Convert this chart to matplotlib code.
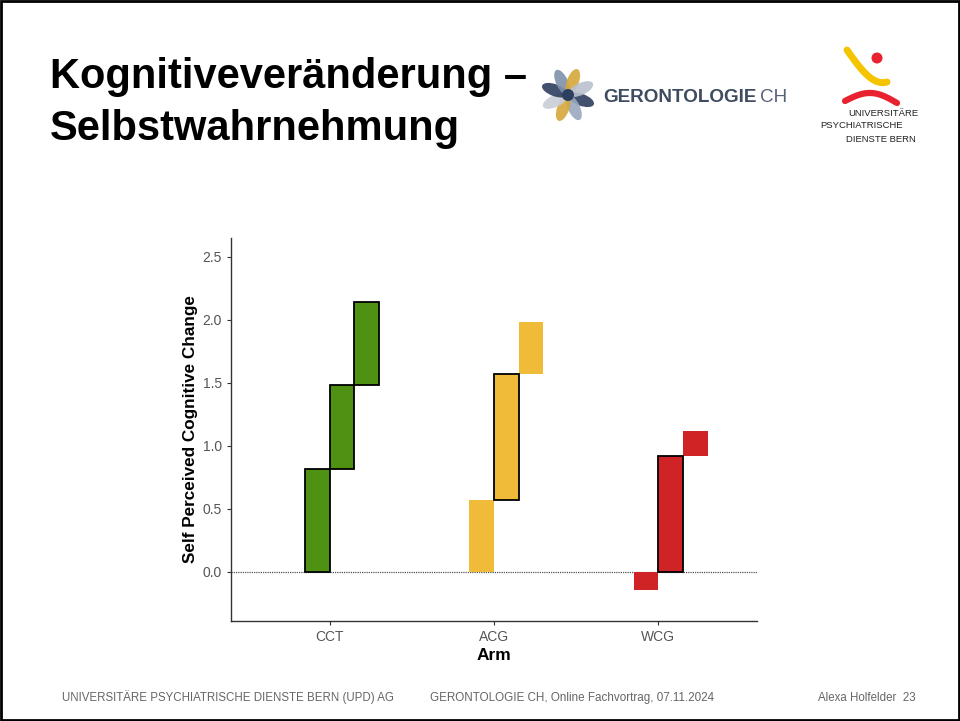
#!/usr/bin/env python3

import numpy as np
import matplotlib
matplotlib.use("Agg")
import matplotlib.pyplot as plt
from matplotlib.patches import Ellipse, Circle, Rectangle

plt.rcParams["font.family"] = ["Liberation Sans", "DejaVu Sans"]

# chart data
arms = ["CCT", "ACG", "WCG"]
arm_colors = ["#4f9112", "#f0bb38", "#d02325"]
# three steps per arm: (bottom, top)
cct_steps = [(0.0, 0.82), (0.82, 1.48), (1.48, 2.14)]
acg_steps = [(0.0, 0.57), (0.57, 1.57), (1.57, 1.98)]
wcg_steps = [(0.0, -0.14), (0.0, 0.92), (0.92, 1.12)]
# which steps carry a black outline
cct_outline = [True, True, True]
acg_outline = [False, True, False]
wcg_outline = [False, True, False]

y_ticks = [0.0, 0.5, 1.0, 1.5, 2.0, 2.5]
y_label = "Self Perceived Cognitive Change"
x_label = "Arm"

title = "Kognitiveveränderung –\nSelbstwahrnehmung"
footer_left = "UNIVERSITÄRE PSYCHIATRISCHE DIENSTE BERN (UPD) AG"
footer_mid = "GERONTOLOGIE CH, Online Fachvortrag, 07.11.2024"
footer_right = "Alexa Holfelder  23"

W, H = 960, 721
fig = plt.figure(figsize=(W / 100, H / 100), dpi=100)
fig.patch.set_facecolor("white")


def px(x, y):
    # pixel coords (top-left origin) -> figure fraction
    return x / W, 1 - y / H


# slide frame
fig.add_artist(Rectangle((0.001, 0.001), 0.998, 0.997, transform=fig.transFigure,
                         fill=False, edgecolor="black", linewidth=2))

# title
fig.text(*px(50, 57), title, fontsize=30, fontweight="bold", va="top", ha="left",
         linespacing=1.38, color="black")

# ---- gerontologie logo (rough) ----
logo = fig.add_axes([0, 0, 1, 1], facecolor="none")
logo.set_xlim(0, W)
logo.set_ylim(H, 0)
logo.axis("off")
cx, cy = 568, 95
petal_cols = ["#2d3f5e", "#9aa8bd", "#d6a83c", "#c9cdd6", "#2d3f5e", "#7f90aa", "#d6a83c", "#b9c1cf"]
for i, c in enumerate(petal_cols):
    ang = i * 45 + 20
    r = np.deg2rad(ang)
    logo.add_patch(Ellipse((cx + 14 * np.cos(r), cy + 14 * np.sin(r)), 27, 12, angle=ang,
                           facecolor=c, edgecolor="none", alpha=0.9))
logo.add_patch(Circle((cx, cy), 6, facecolor="#2d3f5e", edgecolor="none"))
logo.text(603, 98, "GERONTOLOGIE", fontsize=13.6, fontweight="bold", color="#3f4b5f",
          va="center", ha="left")
logo.text(760, 98, "CH", fontsize=13.6, color="#56627a", va="center", ha="left")

# ---- UPD logo (rough) ----
t = np.linspace(0, 1, 50)
logo.plot(847 + 40 * t, 50 + 36 * np.sin(t * np.pi / 2) - 4 * t ** 3, color="#f5c400",
          linewidth=5, solid_capstyle="round")
logo.add_patch(Circle((877, 58), 5.5, facecolor="#e8222f", edgecolor="none"))
logo.plot(845 + 52 * t, 101 - 9 * np.sin(t * np.pi) + 2 * t, color="#e8222f",
          linewidth=4.5, solid_capstyle="round")
logo.text(848, 113, "UNIVERSITÄRE", fontsize=6.8, color="#222222", va="center", ha="left")
logo.text(820, 126, "PSYCHIATRISCHE", fontsize=6.8, color="#222222", va="center", ha="left")
logo.text(846, 139, "DIENSTE BERN", fontsize=6.8, color="#222222", va="center", ha="left")

# ---- chart ----
ax = fig.add_axes([231 / W, 100 / H, 526 / W, 383 / H])
all_steps = [cct_steps, acg_steps, wcg_steps]
all_outline = [cct_outline, acg_outline, wcg_outline]
bar_w = 0.15
ax.axhline(0, color="#555555", linestyle=(0, (1, 0.8)), linewidth=0.9, zorder=1)
for i, (steps, outl) in enumerate(zip(all_steps, all_outline)):
    for j, ((lo, hi), o) in enumerate(zip(steps, outl)):
        ax.bar(i + 1 - bar_w + j * bar_w, hi - lo, bottom=lo, width=bar_w, align="edge",
               color=arm_colors[i], edgecolor="black" if o else "none",
               linewidth=1.3 if o else 0, zorder=3 if o else 2)

ax.set_xlim(0.4, 3.6)
ax.set_ylim(-0.39, 2.65)
ax.set_xticks([1, 2, 3])
ax.set_xticklabels(arms)
ax.set_yticks(y_ticks)
ax.set_yticklabels([f"{v:.1f}" for v in y_ticks])
for s in ["top", "right"]:
    ax.spines[s].set_visible(False)
for s in ["left", "bottom"]:
    ax.spines[s].set_color("#333333")
    ax.spines[s].set_linewidth(1.0)
ax.tick_params(axis="both", colors="#333333", labelcolor="#555555", labelsize=10,
               length=3, width=0.8)
ax.set_xlabel(x_label, fontsize=12.5, fontweight="bold", labelpad=3)
ax.set_ylabel(y_label, fontsize=12.3, fontweight="bold", labelpad=3)

# footer
fcol = "#666666"
fig.text(*px(62, 701), footer_left, fontsize=8.3, color=fcol, va="baseline", ha="left")
fig.text(*px(430, 701), footer_mid, fontsize=8.4, color=fcol, va="baseline", ha="left")
fig.text(*px(916, 701), footer_right, fontsize=8.3, color=fcol, va="baseline", ha="right")

fig.savefig("out.png", dpi=100)
